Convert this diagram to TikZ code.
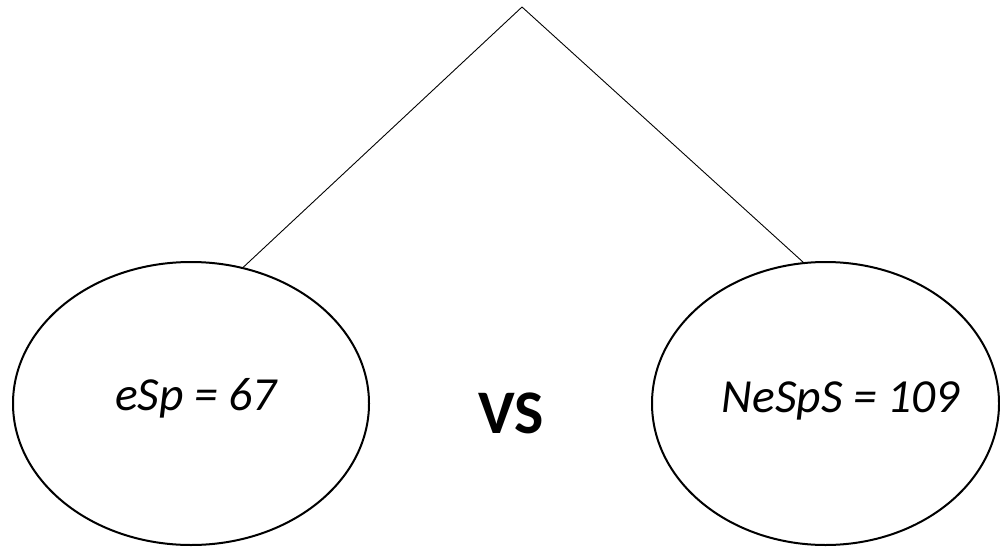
\documentclass[tikz,border=0pt]{standalone}
\usepackage{fontspec}
\setmainfont{Carlito}
\usetikzlibrary{shapes.geometric}
\begin{document}
\begin{tikzpicture}[x=1pt,y=1pt,
  oval/.style={draw=black,line width=2pt,ellipse,inner sep=0pt},
  link/.style={draw=black,line width=0.9pt},
  lbl/.style={anchor=base,inner sep=0pt,font=\fontsize{47.5}{52}\selectfont\itshape}]
\useasboundingbox (0,0) rectangle (1000,547);
\node[oval,minimum width=356pt,minimum height=283pt] (left) at (191,143.5) {};
\node[oval,minimum width=347pt,minimum height=283pt] (right) at (825.5,143.5) {};
\coordinate (apex) at (522,540);
\node[lbl] (ltext) at (196,137) {eSp = 67};
\node[lbl] (rtext) at (841,135) {NeSpS = 109};
\node[anchor=base,inner sep=0pt,font=\fontsize{62}{66}\selectfont\bfseries] (vs) at (511,114) {VS};
\draw[link] (apex) -- (left.69);
\draw[link] (apex) -- (right.99);
\end{tikzpicture}
\end{document}
